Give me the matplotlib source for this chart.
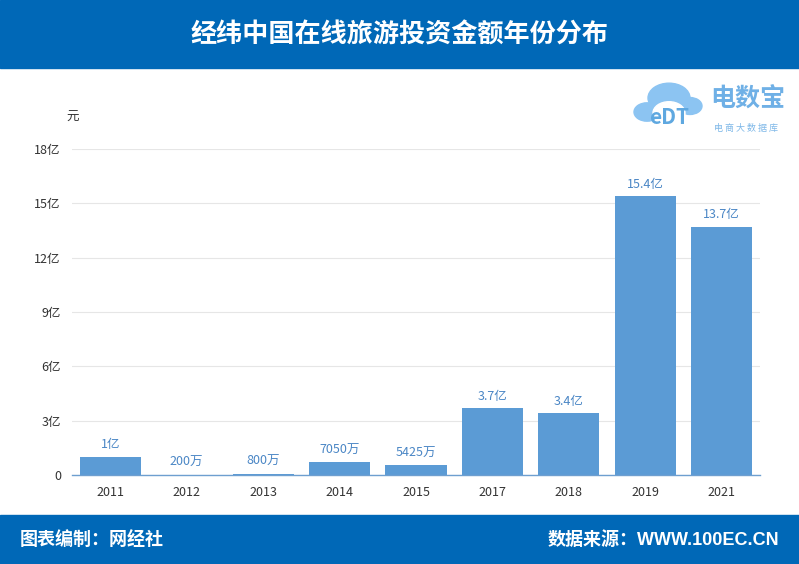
import numpy as np
import matplotlib.pyplot as plt
from matplotlib.patches import Rectangle, Circle

plt.rcParams['font.family'] = ['Noto Sans CJK SC', 'DejaVu Sans']

# data (unit: 亿元)
years = ['2011', '2012', '2013', '2014', '2015', '2017', '2018', '2019', '2021']
amounts = [1.0, 0.02, 0.08, 0.705, 0.5425, 3.7, 3.4, 15.4, 13.7]
bar_labels = ['1亿', '200万', '800万', '7050万', '5425万', '3.7亿', '3.4亿', '15.4亿', '13.7亿']
y_ticks = [0, 3, 6, 9, 12, 15, 18]
y_tick_labels = ['0', '3亿', '6亿', '9亿', '12亿', '15亿', '18亿']

blue = '#0068b7'
bar_color = '#5b9bd5'

fig = plt.figure(figsize=(7.99, 5.64), dpi=100)

# header and footer bands
fig.patches.append(Rectangle((0, 1 - 68/564), 1, 68/564, transform=fig.transFigure,
                             color=blue, zorder=0))
fig.patches.append(Rectangle((0, 0), 1, 49/564, transform=fig.transFigure,
                             color=blue, zorder=0))
fig.text(0.5, 1 - 35/564, '经纬中国在线旅游投资金额年份分布', color='white',
         fontsize=18.8, fontweight='bold', ha='center', va='center')
fig.text(20/799, 1 - 540/564, '图表编制：网经社', color='white',
         fontsize=13, fontweight='bold', ha='left', va='center')
fig.text(779/799, 1 - 540/564, '数据来源：WWW.100EC.CN', color='white',
         fontsize=13, fontweight='bold', ha='right', va='center',
         family=['Liberation Sans', 'Noto Sans CJK SC'])

# logo (rough cloud + text)
for cx, cy, r in [(647, 112, 13), (669, 98, 21), (690, 106, 12)]:
    fig.patches.append(Circle((cx/799, 1 - cy/564), r/799, transform=fig.transFigure,
                              color='#8cc4f2', zorder=1))
fig.patches.append(Circle((669/799, 1 - 113/564), 16/799, transform=fig.transFigure,
                          color='white', zorder=1))
fig.text(669/799, 1 - 118/564, 'eDT', color='#5fa8e0', fontsize=15, fontweight='bold',
         ha='center', va='center', zorder=3)
fig.text(748/799, 1 - 100/564, '电数宝', color='#6fb0e6', fontsize=18, fontweight='bold',
         ha='center', va='center')
fig.text(746/799, 1 - 128/564, '电 商 大 数 据 库', color='#7fb8e8', fontsize=6.5,
         ha='center', va='center')

ax = fig.add_axes([72/799, 1 - 475/564, 688/799, 326/564])
x = np.arange(len(years))
ax.bar(x, amounts, width=0.8, color=bar_color, zorder=2)
for xi, v, lab in zip(x, amounts, bar_labels):
    ax.text(xi, v + 0.3, lab, ha='center', va='bottom', fontsize=9, color='#4a86c5')

ax.set_xlim(-0.5, len(years) - 0.5)
ax.set_ylim(0, 18)
ax.set_xticks(x)
ax.set_xticklabels(years, fontsize=9, color='#333333')
ax.set_yticks(y_ticks)
ax.set_yticklabels(y_tick_labels, fontsize=9, color='#333333')
ax.tick_params(axis='both', length=0, pad=8)
ax.grid(axis='y', color='#e6e6e6', linewidth=0.8, zorder=0)
for s in ['top', 'right', 'left']:
    ax.spines[s].set_visible(False)
ax.spines['bottom'].set_color('#6e9fd0')
ax.spines['bottom'].set_linewidth(1)
fig.text(73/799, 1 - 117/564, '元', fontsize=9, color='#333333', ha='center', va='center')

fig.savefig('out.png', dpi=100, facecolor='white')
